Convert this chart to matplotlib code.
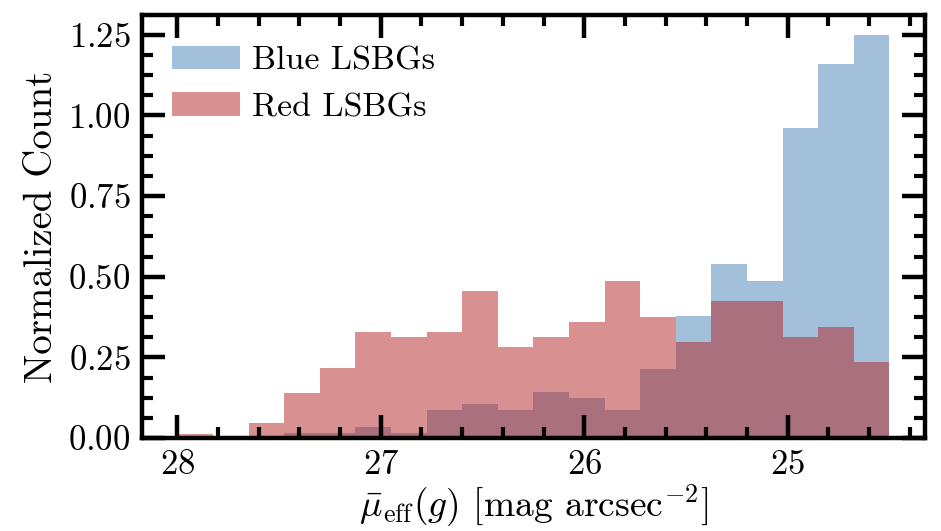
"""
Surface-brightness histograms of blue and red LSBGs
"""
import matplotlib.pyplot as plt
import numpy as np
from matplotlib.ticker import MultipleLocator

plt.rcParams['font.family'] = 'serif'
plt.rcParams['font.serif'] = ['cmr10']
plt.rcParams['mathtext.fontset'] = 'cm'
plt.rcParams['axes.formatter.use_mathtext'] = True

# 20 bins of 0.175 mag between 28.0 and 24.5
bin_edges = np.linspace(28.0, 24.5, 21)
bin_centers = 0.5 * (bin_edges[:-1] + bin_edges[1:])

# normalized counts per bin, from faint (28.0) to bright (24.5)
blue_density = [0.0, 0.0, 0.0, 0.017, 0.017, 0.035, 0.017, 0.087, 0.106, 0.087,
                0.142, 0.124, 0.087, 0.214, 0.378, 0.541, 0.488, 0.962, 1.161, 1.249]
red_density = [0.013, 0.0, 0.046, 0.139, 0.218, 0.329, 0.313, 0.329, 0.456, 0.281,
               0.313, 0.361, 0.488, 0.376, 0.299, 0.425, 0.425, 0.313, 0.345, 0.235]

fig = plt.figure(figsize=(9.41, 5.31), dpi=100)
ax = fig.add_axes([0.1506, 0.175, 0.8324, 0.7968])

ax.hist(bin_centers, bins=bin_edges[::-1], weights=blue_density,
        color='steelblue', alpha=0.5, linewidth=0, label='Blue LSBGs')
ax.hist(bin_centers, bins=bin_edges[::-1], weights=red_density,
        color='firebrick', alpha=0.5, linewidth=0, label='Red LSBGs')

ax.invert_xaxis()
ax.xaxis.set_major_locator(MultipleLocator(1))
ax.xaxis.set_minor_locator(MultipleLocator(0.2))
ax.yaxis.set_major_locator(MultipleLocator(0.25))
ax.yaxis.set_minor_locator(MultipleLocator(0.0625))

for side in ax.spines.values():
    side.set_linewidth(3.2)
ax.tick_params(which='both', direction='in', top=True, right=True, labelsize=25)
ax.tick_params(which='major', length=16.5, width=3.2, pad=8)
ax.tick_params(which='minor', length=8, width=3.0)

ax.set_xlabel(r'$\bar{\mu}_{\rm eff}(g)$ [mag arcsec$^{-2}$]', fontsize=27, labelpad=1)
ax.set_ylabel('Normalized Count', fontsize=28, labelpad=6)
ax.legend(loc='upper left', frameon=False, fontsize=24.5, handletextpad=0.35)

plt.savefig('out.png')
